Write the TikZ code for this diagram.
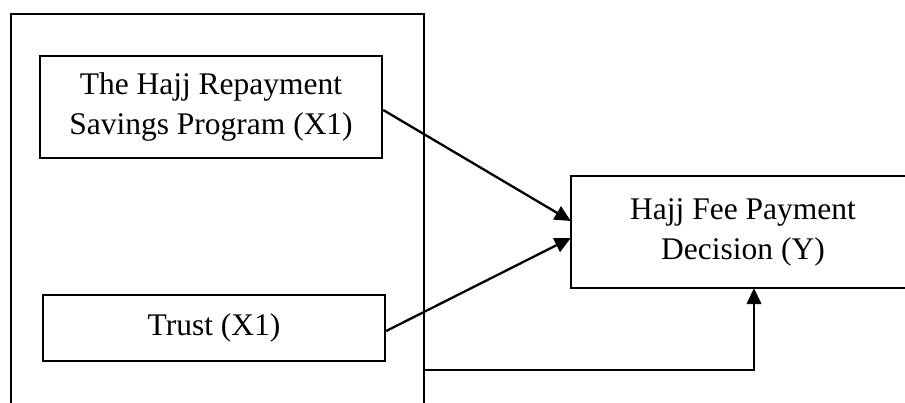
\documentclass[tikz,border=0pt]{standalone}
\usepackage{fontspec}
\setmainfont{Liberation Serif}
\usetikzlibrary{arrows.meta}
\tikzset{
  box/.style={draw, line width=2.4pt, inner sep=0pt, align=center,
    font=\fontsize{31.5}{40}\selectfont},
  link/.style={line width=2.3pt, -{Triangle[length=16pt, width=15pt]}},
  thinlink/.style={line width=1.4pt, -{Triangle[length=16pt, width=15pt]}}
}
\begin{document}
\begin{tikzpicture}[x=1pt, y=-1pt]
  \useasboundingbox (0,0) rectangle (905,403);
  \clip (0,0) rectangle (905,403);
  % outer frame, open at the bottom of the page
  \node[draw, line width=2.4pt, minimum width=413pt, minimum height=440pt,
        anchor=north west, inner sep=0pt] (frame) at (10,13) {};
  % variables
  \node[box, minimum width=342pt, minimum height=102pt] (prog) at (211,107)
    {The Hajj Repayment\\Savings Program (X1)};
  \node[box, minimum width=342pt, minimum height=66pt] (trust) at (214,328)
    {Trust (X1)};
  \node[box, draw=none, minimum width=342pt, minimum height=110pt] (dec) at (743,232)
    {Hajj Fee Payment\\Decision (Y)};
  % the outcome box runs past the right edge
  \draw[line width=2.4pt] (dec.north west) rectangle ([xshift=60pt]dec.south east);
  % connectors
  \path (frame.north east) ++(0,357) coordinate (tap);
  \draw[link] ([yshift=-3pt]prog.east) -- ([yshift=11pt]dec.west);
  \draw[link] ([yshift=-3pt]trust.east) -- ([yshift=-6pt]dec.west);
  \draw[thinlink] (tap) -| ([xshift=11pt]dec.south);
\end{tikzpicture}
\end{document}
